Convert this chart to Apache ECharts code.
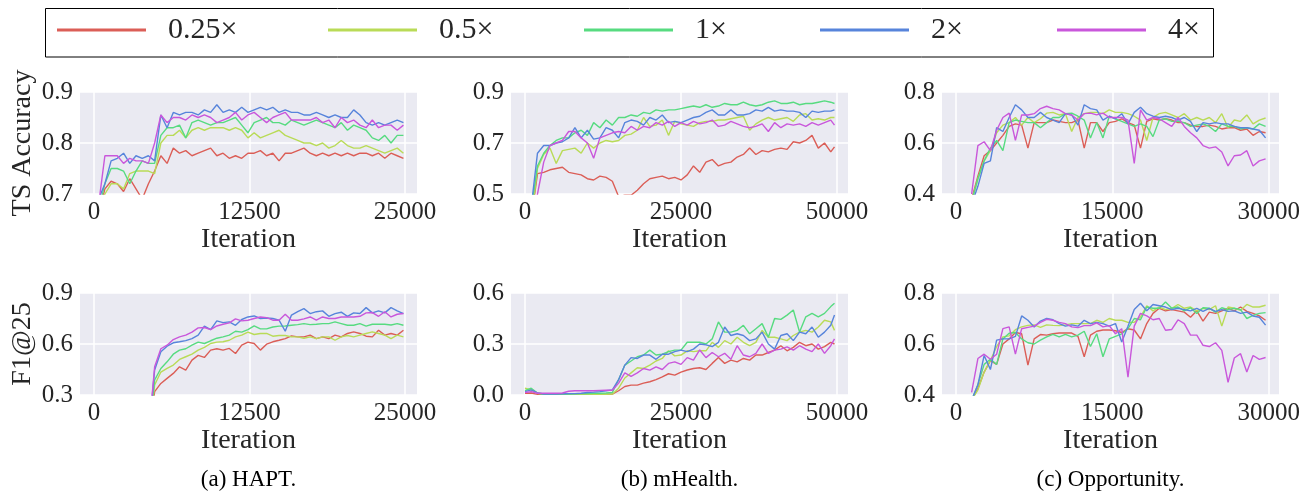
<!DOCTYPE html>
<html>
<head>
<meta charset="utf-8">
<script src="https://cdn.jsdelivr.net/npm/echarts@6.0.0/dist/echarts.min.js"></script>
<style>
  html, body { margin: 0; padding: 0; background: #fff; }
  #chart { width: 1315px; height: 499px; }
</style>
</head>
<body>
<div id="chart"></div>
<script>
// legend names / colours (seaborn hls palette)
const names = ['0.25×', '0.5×', '1×', '2×', '4×']
const colors = ['#db5e57', '#b9db57', '#57db80', '#5784db', '#c957db']

// ---- HAPT ----
const haptIter = [375, 875, 1375, 1875, 2375, 2875, 3375, 3875, 4375, 4875, 5375, 5875, 6375, 6875, 7375, 7875, 8375, 8875, 9375, 9875,
  10375, 10875, 11375, 11875, 12375, 12875, 13375, 13875, 14375, 14875, 15375, 15875, 16375, 16875, 17375, 17875, 18375, 18875, 19375, 19875,
  20375, 20875, 21375, 21875, 22375, 22875, 23375, 23875, 24375, 24875]
const haptTicks = [0, 12500, 25000]

const haptAccR = [0.66, 0.71, 0.725, 0.72, 0.705, 0.73, 0.71, 0.69, 0.72, 0.745, 0.775, 0.76, 0.79, 0.78, 0.785, 0.775, 0.78, 0.785, 0.79, 0.775,
  0.78, 0.77, 0.775, 0.77, 0.78, 0.78, 0.785, 0.775, 0.78, 0.765, 0.78, 0.78, 0.785, 0.79, 0.78, 0.775, 0.78, 0.775, 0.78, 0.775,
  0.78, 0.775, 0.78, 0.78, 0.775, 0.78, 0.77, 0.78, 0.775, 0.77]
const haptAccY = [0.66, 0.70, 0.72, 0.72, 0.71, 0.74, 0.745, 0.745, 0.745, 0.74, 0.80, 0.815, 0.815, 0.825, 0.81, 0.825, 0.83, 0.825, 0.83, 0.83,
  0.83, 0.825, 0.83, 0.825, 0.81, 0.82, 0.81, 0.815, 0.82, 0.825, 0.815, 0.81, 0.805, 0.80, 0.80, 0.795, 0.80, 0.79, 0.795, 0.805,
  0.795, 0.79, 0.79, 0.795, 0.79, 0.785, 0.78, 0.785, 0.79, 0.78]
const haptAccG = [0.67, 0.72, 0.75, 0.75, 0.745, 0.72, 0.745, 0.765, 0.76, 0.76, 0.815, 0.83, 0.83, 0.835, 0.81, 0.84, 0.845, 0.84, 0.835, 0.84,
  0.84, 0.845, 0.85, 0.835, 0.82, 0.84, 0.845, 0.85, 0.84, 0.84, 0.835, 0.845, 0.84, 0.835, 0.84, 0.845, 0.84, 0.835, 0.83, 0.84,
  0.825, 0.835, 0.83, 0.825, 0.81, 0.805, 0.815, 0.80, 0.815, 0.815]
const haptAccB = [0.69, 0.72, 0.765, 0.77, 0.78, 0.76, 0.775, 0.77, 0.775, 0.765, 0.855, 0.83, 0.86, 0.855, 0.86, 0.86, 0.855, 0.865, 0.86, 0.875,
  0.86, 0.865, 0.86, 0.87, 0.86, 0.865, 0.87, 0.865, 0.87, 0.86, 0.865, 0.86, 0.86, 0.855, 0.855, 0.86, 0.855, 0.85, 0.855, 0.85,
  0.85, 0.865, 0.855, 0.84, 0.835, 0.84, 0.835, 0.84, 0.845, 0.84]
const haptAccP = [0.68, 0.775, 0.775, 0.775, 0.76, 0.77, 0.765, 0.765, 0.76, 0.80, 0.855, 0.84, 0.85, 0.85, 0.845, 0.855, 0.85, 0.855, 0.85, 0.84,
  0.845, 0.85, 0.86, 0.845, 0.855, 0.86, 0.85, 0.84, 0.85, 0.855, 0.86, 0.845, 0.845, 0.845, 0.845, 0.85, 0.84, 0.845, 0.83, 0.85,
  0.84, 0.845, 0.835, 0.83, 0.845, 0.83, 0.835, 0.835, 0.825, 0.835]

const haptF1Iter = [4375, 4875, 5375, 5875, 6375, 6875, 7375, 7875, 8375, 8875, 9375, 9875,
  10375, 10875, 11375, 11875, 12375, 12875, 13375, 13875, 14375, 14875, 15375, 15875, 16375, 16875, 17375, 17875, 18375, 18875, 19375, 19875,
  20375, 20875, 21375, 21875, 22375, 22875, 23375, 23875, 24375, 24875]
const haptF1R = [0.05, 0.32, 0.368, 0.398, 0.427, 0.466, 0.447, 0.505, 0.533, 0.521, 0.564, 0.572, 0.564, 0.574, 0.544, 0.593, 0.611, 0.603, 0.564, 0.599, 0.613,
  0.622, 0.632, 0.648, 0.642, 0.642, 0.652, 0.632, 0.642, 0.632, 0.652, 0.642, 0.662, 0.671, 0.662, 0.646, 0.642, 0.681, 0.652, 0.662, 0.652, 0.681]
const haptF1Y = [0.05, 0.359, 0.435, 0.456, 0.476, 0.509, 0.525, 0.54, 0.564, 0.58, 0.603, 0.611, 0.613, 0.622, 0.642, 0.652, 0.67, 0.656, 0.662, 0.662, 0.646,
  0.65, 0.65, 0.642, 0.642, 0.634, 0.642, 0.632, 0.642, 0.642, 0.622, 0.642, 0.65, 0.642, 0.652, 0.662, 0.671, 0.662, 0.652, 0.632, 0.652, 0.642]
const haptF1G = [0.05, 0.388, 0.456, 0.495, 0.54, 0.564, 0.572, 0.593, 0.611, 0.603, 0.619, 0.634, 0.642, 0.652, 0.675, 0.67, 0.685, 0.706, 0.689, 0.689, 0.70,
  0.705, 0.706, 0.71, 0.714, 0.72, 0.714, 0.716, 0.72, 0.72, 0.73, 0.72, 0.71, 0.71, 0.72, 0.705, 0.716, 0.716, 0.716, 0.712, 0.72, 0.71]
const haptF1B = [0.05, 0.447, 0.554, 0.587, 0.607, 0.613, 0.62, 0.632, 0.652, 0.705, 0.685, 0.736, 0.726, 0.73, 0.71, 0.744, 0.759, 0.765, 0.75, 0.753, 0.75,
  0.74, 0.675, 0.77, 0.79, 0.808, 0.779, 0.79, 0.795, 0.763, 0.779, 0.787, 0.763, 0.783, 0.779, 0.814, 0.783, 0.795, 0.783, 0.814, 0.795, 0.779]
const haptF1P = [0.05, 0.466, 0.572, 0.593, 0.626, 0.642, 0.652, 0.67, 0.695, 0.697, 0.685, 0.706, 0.716, 0.724, 0.748, 0.736, 0.74, 0.75, 0.759, 0.755, 0.74,
  0.74, 0.775, 0.74, 0.74, 0.748, 0.759, 0.74, 0.759, 0.75, 0.75, 0.759, 0.759, 0.759, 0.763, 0.783, 0.785, 0.763, 0.79, 0.759, 0.775, 0.779]

// ---- mHealth ----
const mhAccIter = [1000, 2000, 3000, 4000, 5000, 6000, 7000, 8000, 9000, 10000, 11000, 12000, 13000, 14000, 15000, 16000, 17000, 18000, 19000, 20000,
  21000, 22000, 23000, 24000, 25000, 26000, 27000, 28000, 29000, 30000, 31000, 32000, 33000, 34000, 35000, 36000, 37000, 38000, 39000, 40000,
  41000, 42000, 43000, 44000, 45000, 46000, 47000, 48000, 49000, 49600]
const mhTicks = [0, 25000, 50000]

const mhAccR = [0.40, 0.58, 0.585, 0.595, 0.60, 0.605, 0.585, 0.58, 0.575, 0.56, 0.555, 0.57, 0.565, 0.55, 0.49, 0.495, 0.495, 0.515, 0.54, 0.56,
  0.565, 0.57, 0.56, 0.565, 0.555, 0.575, 0.61, 0.585, 0.625, 0.635, 0.61, 0.62, 0.625, 0.645, 0.655, 0.68, 0.655, 0.67, 0.665, 0.675,
  0.68, 0.675, 0.705, 0.70, 0.71, 0.73, 0.68, 0.70, 0.665, 0.685]
const mhAccY = [0.40, 0.60, 0.655, 0.68, 0.62, 0.67, 0.675, 0.68, 0.66, 0.70, 0.68, 0.70, 0.71, 0.705, 0.71, 0.73, 0.735, 0.75, 0.80, 0.765,
  0.77, 0.79, 0.73, 0.785, 0.775, 0.77, 0.765, 0.78, 0.785, 0.785, 0.79, 0.79, 0.795, 0.80, 0.805, 0.75, 0.775, 0.79, 0.80, 0.79,
  0.795, 0.80, 0.785, 0.81, 0.815, 0.79, 0.795, 0.79, 0.80, 0.80]
const mhAccG = [0.44, 0.61, 0.66, 0.69, 0.71, 0.72, 0.72, 0.74, 0.75, 0.73, 0.78, 0.76, 0.79, 0.77, 0.80, 0.80, 0.81, 0.805, 0.82, 0.815,
  0.83, 0.825, 0.83, 0.83, 0.835, 0.84, 0.845, 0.84, 0.85, 0.84, 0.845, 0.855, 0.85, 0.85, 0.86, 0.85, 0.845, 0.85, 0.86, 0.865,
  0.855, 0.855, 0.86, 0.85, 0.855, 0.855, 0.86, 0.865, 0.86, 0.855]
const mhAccB = [0.45, 0.66, 0.69, 0.69, 0.70, 0.705, 0.72, 0.76, 0.72, 0.75, 0.715, 0.72, 0.76, 0.75, 0.72, 0.78, 0.79, 0.785, 0.77, 0.80,
  0.79, 0.81, 0.78, 0.785, 0.78, 0.79, 0.80, 0.805, 0.82, 0.83, 0.81, 0.81, 0.83, 0.81, 0.81, 0.815, 0.83, 0.825, 0.84, 0.825,
  0.83, 0.825, 0.825, 0.82, 0.80, 0.825, 0.82, 0.825, 0.825, 0.83]
const mhAccP = [0.35, 0.50, 0.625, 0.69, 0.70, 0.71, 0.745, 0.745, 0.72, 0.70, 0.64, 0.72, 0.73, 0.74, 0.745, 0.74, 0.765, 0.75, 0.765, 0.76,
  0.78, 0.77, 0.785, 0.765, 0.78, 0.77, 0.785, 0.775, 0.78, 0.79, 0.765, 0.77, 0.785, 0.775, 0.765, 0.76, 0.765, 0.775, 0.745, 0.78,
  0.76, 0.775, 0.77, 0.775, 0.765, 0.78, 0.77, 0.78, 0.79, 0.77]

const mhF1Iter = [0, 1000, 2000, 3000, 4000, 5000, 6000, 7000, 8000, 9000, 10000, 11000, 12000, 13000, 14000, 15000, 16000, 17000, 18000, 19000, 20000,
  21000, 22000, 23000, 24000, 25000, 26000, 27000, 28000, 29000, 30000, 31000, 32000, 33000, 34000, 35000, 36000, 37000, 38000, 39000, 40000,
  41000, 42000, 43000, 44000, 45000, 46000, 47000, 48000, 49000, 49600]
const mhF1R = [0.01, 0.012, 0.004, 0.004, 0.004, 0.004, 0.004, 0.004, 0.004, 0.004, 0.004, 0.004, 0.004, 0.004, 0.005, 0.025, 0.05, 0.058, 0.058, 0.07,
  0.078, 0.09, 0.107, 0.125, 0.117, 0.135, 0.147, 0.156, 0.16, 0.15, 0.186, 0.22, 0.186, 0.205, 0.195, 0.215, 0.205, 0.235, 0.235, 0.25,
  0.264, 0.29, 0.26, 0.28, 0.31, 0.29, 0.30, 0.27, 0.285, 0.31, 0.30]
const mhF1Y = [0.04, 0.03, 0.01, 0.004, 0.004, 0.004, 0.004, 0.004, 0.004, 0.004, 0.004, 0.004, 0.004, 0.004, 0.005, 0.04, 0.10, 0.13, 0.16, 0.156,
  0.176, 0.20, 0.215, 0.26, 0.23, 0.235, 0.26, 0.255, 0.26, 0.26, 0.31, 0.28, 0.32, 0.30, 0.34, 0.31, 0.29, 0.31, 0.38, 0.34,
  0.34, 0.33, 0.32, 0.35, 0.37, 0.38, 0.37, 0.40, 0.44, 0.43, 0.38]
const mhF1G = [0.025, 0.04, 0.012, 0.006, 0.006, 0.006, 0.006, 0.006, 0.007, 0.008, 0.008, 0.01, 0.01, 0.012, 0.015, 0.09, 0.176, 0.20, 0.225, 0.235,
  0.264, 0.235, 0.24, 0.255, 0.264, 0.264, 0.31, 0.31, 0.31, 0.30, 0.33, 0.43, 0.37, 0.37, 0.38, 0.41, 0.36, 0.39, 0.42, 0.34,
  0.45, 0.445, 0.47, 0.50, 0.37, 0.46, 0.48, 0.46, 0.48, 0.52, 0.54]
const mhF1B = [0.02, 0.03, 0.012, 0.006, 0.006, 0.006, 0.007, 0.008, 0.008, 0.01, 0.015, 0.017, 0.02, 0.025, 0.03, 0.09, 0.176, 0.22, 0.215, 0.235,
  0.235, 0.21, 0.24, 0.24, 0.255, 0.264, 0.255, 0.27, 0.30, 0.295, 0.285, 0.31, 0.40, 0.35, 0.36, 0.35, 0.32, 0.33, 0.37, 0.30,
  0.27, 0.35, 0.36, 0.32, 0.37, 0.36, 0.40, 0.34, 0.37, 0.41, 0.47]
const mhF1P = [0.015, 0.02, 0.01, 0.01, 0.01, 0.01, 0.012, 0.022, 0.025, 0.025, 0.025, 0.025, 0.027, 0.028, 0.028, 0.07, 0.13, 0.11, 0.13, 0.156,
  0.146, 0.166, 0.15, 0.186, 0.195, 0.18, 0.22, 0.205, 0.265, 0.22, 0.25, 0.225, 0.245, 0.21, 0.29, 0.235, 0.225, 0.245, 0.30, 0.245,
  0.264, 0.27, 0.283, 0.264, 0.29, 0.27, 0.255, 0.30, 0.245, 0.29, 0.33]

// ---- Opportunity ----
const oppIter = [1500, 2100, 2700, 3300, 3900, 4500, 5100, 5700, 6300, 6900, 7500, 8100, 8700, 9300, 9900, 10500, 11100, 11700, 12300, 12900,
  13500, 14100, 14700, 15300, 15900, 16500, 17100, 17700, 18300, 18900, 19500, 20100, 20700, 21300, 21900, 22500, 23100, 23700, 24300, 24900,
  25500, 26100, 26700, 27300, 27900, 28500, 29100, 29700]
const oppTicks = [0, 15000, 30000]

const oppAccR = [0.38, 0.47, 0.55, 0.57, 0.60, 0.63, 0.665, 0.675, 0.67, 0.58, 0.68, 0.68, 0.68, 0.69, 0.685, 0.68, 0.68, 0.69, 0.58, 0.68,
  0.68, 0.645, 0.68, 0.685, 0.695, 0.68, 0.67, 0.58, 0.685, 0.695, 0.69, 0.695, 0.69, 0.68, 0.68, 0.67, 0.665, 0.665, 0.67, 0.665,
  0.655, 0.66, 0.66, 0.65, 0.655, 0.63, 0.645, 0.64]
const oppAccY = [0.37, 0.46, 0.53, 0.57, 0.64, 0.67, 0.68, 0.70, 0.67, 0.70, 0.68, 0.695, 0.717, 0.72, 0.71, 0.715, 0.645, 0.70, 0.715, 0.72,
  0.72, 0.715, 0.73, 0.72, 0.72, 0.715, 0.705, 0.69, 0.61, 0.70, 0.715, 0.72, 0.71, 0.70, 0.715, 0.69, 0.70, 0.69, 0.70, 0.68,
  0.715, 0.66, 0.69, 0.685, 0.71, 0.675, 0.69, 0.698]
const oppAccG = [0.37, 0.46, 0.53, 0.58, 0.61, 0.57, 0.68, 0.69, 0.685, 0.68, 0.68, 0.66, 0.68, 0.70, 0.70, 0.715, 0.717, 0.705, 0.69, 0.62,
  0.68, 0.62, 0.705, 0.695, 0.685, 0.675, 0.665, 0.675, 0.665, 0.625, 0.69, 0.695, 0.685, 0.685, 0.68, 0.665, 0.67, 0.675, 0.665, 0.645,
  0.675, 0.665, 0.665, 0.655, 0.66, 0.655, 0.675, 0.665]
const oppAccB = [0.36, 0.43, 0.52, 0.53, 0.66, 0.645, 0.70, 0.75, 0.73, 0.70, 0.70, 0.72, 0.70, 0.69, 0.68, 0.715, 0.71, 0.67, 0.75, 0.735,
  0.73, 0.69, 0.705, 0.695, 0.715, 0.675, 0.72, 0.74, 0.715, 0.705, 0.70, 0.705, 0.70, 0.69, 0.70, 0.685, 0.645, 0.68, 0.675, 0.68,
  0.675, 0.675, 0.665, 0.66, 0.66, 0.655, 0.65, 0.62]
const oppAccP = [0.40, 0.59, 0.605, 0.57, 0.65, 0.70, 0.717, 0.61, 0.71, 0.71, 0.715, 0.735, 0.744, 0.735, 0.73, 0.715, 0.71, 0.69, 0.715, 0.717,
  0.71, 0.717, 0.70, 0.70, 0.70, 0.69, 0.52, 0.73, 0.69, 0.70, 0.695, 0.68, 0.665, 0.70, 0.665, 0.64, 0.62, 0.59, 0.58, 0.585,
  0.565, 0.51, 0.55, 0.553, 0.57, 0.51, 0.53, 0.538]

const oppF1R = [0.38, 0.425, 0.49, 0.535, 0.52, 0.60, 0.62, 0.645, 0.64, 0.517, 0.62, 0.637, 0.635, 0.64, 0.643, 0.643, 0.643, 0.63, 0.55, 0.635,
  0.65, 0.655, 0.655, 0.652, 0.645, 0.66, 0.655, 0.62, 0.68, 0.72, 0.74, 0.73, 0.735, 0.73, 0.725, 0.705, 0.73, 0.69, 0.725, 0.72,
  0.73, 0.74, 0.73, 0.745, 0.728, 0.72, 0.71, 0.693]
const oppF1Y = [0.38, 0.42, 0.49, 0.535, 0.59, 0.628, 0.632, 0.656, 0.667, 0.673, 0.675, 0.665, 0.675, 0.673, 0.672, 0.675, 0.68, 0.68, 0.68, 0.68,
  0.693, 0.685, 0.70, 0.693, 0.693, 0.685, 0.685, 0.706, 0.75, 0.73, 0.745, 0.735, 0.74, 0.755, 0.74, 0.745, 0.73, 0.74, 0.735, 0.75,
  0.67, 0.745, 0.74, 0.732, 0.755, 0.745, 0.745, 0.752]
const oppF1G = [0.38, 0.44, 0.52, 0.54, 0.52, 0.62, 0.642, 0.645, 0.62, 0.605, 0.60, 0.615, 0.628, 0.638, 0.628, 0.638, 0.628, 0.635, 0.65, 0.59,
  0.64, 0.55, 0.62, 0.63, 0.64, 0.66, 0.70, 0.695, 0.745, 0.74, 0.74, 0.765, 0.74, 0.745, 0.73, 0.742, 0.72, 0.742, 0.74, 0.725,
  0.742, 0.735, 0.74, 0.735, 0.70, 0.712, 0.72, 0.723]
const oppF1B = [0.38, 0.44, 0.555, 0.50, 0.615, 0.62, 0.62, 0.63, 0.71, 0.693, 0.667, 0.69, 0.70, 0.695, 0.68, 0.67, 0.675, 0.67, 0.693, 0.68,
  0.685, 0.68, 0.67, 0.68, 0.608, 0.67, 0.735, 0.76, 0.73, 0.755, 0.75, 0.745, 0.735, 0.74, 0.735, 0.73, 0.74, 0.728, 0.74, 0.728,
  0.735, 0.728, 0.73, 0.72, 0.725, 0.71, 0.705, 0.674]
const oppF1P = [0.41, 0.543, 0.56, 0.54, 0.56, 0.66, 0.667, 0.56, 0.66, 0.665, 0.67, 0.685, 0.697, 0.693, 0.685, 0.68, 0.667, 0.664, 0.672, 0.672,
  0.683, 0.667, 0.672, 0.64, 0.66, 0.47, 0.67, 0.72, 0.71, 0.695, 0.70, 0.654, 0.657, 0.695, 0.68, 0.635, 0.635, 0.595, 0.59, 0.605,
  0.575, 0.45, 0.545, 0.562, 0.49, 0.555, 0.54, 0.547]

// y ticks per panel
const accTicksHapt = [0.7, 0.8, 0.9]
const accTicksMh = [0.5, 0.7, 0.9]
const accTicksOpp = [0.4, 0.6, 0.8]
const f1TicksHapt = [0.3, 0.6, 0.9]
const f1TicksMh = [0.0, 0.3, 0.6]
const f1TicksOpp = [0.4, 0.6, 0.8]

const captions = ['(a) HAPT.', '(b) mHealth.', '(c) Opportunity.']

// ---- layout ----
const FONT = 'Liberation Serif'
const TXT = '#262626'
const colLeft = [80, 511, 942]
const rowTop = [92, 293]
const plotW = 337
const plotH = 102
const xRange = [[-1125, 25965], [-2244, 51763], [-1343, 30988]]

const panels = [
  { row: 0, col: 0, iter: haptIter, lines: [haptAccR, haptAccY, haptAccG, haptAccB, haptAccP], xt: haptTicks, yt: accTicksHapt, yName: 'TS Accuracy' },
  { row: 0, col: 1, iter: mhAccIter, lines: [mhAccR, mhAccY, mhAccG, mhAccB, mhAccP], xt: mhTicks, yt: accTicksMh },
  { row: 0, col: 2, iter: oppIter, lines: [oppAccR, oppAccY, oppAccG, oppAccB, oppAccP], xt: oppTicks, yt: accTicksOpp },
  { row: 1, col: 0, iter: haptF1Iter, lines: [haptF1R, haptF1Y, haptF1G, haptF1B, haptF1P], xt: haptTicks, yt: f1TicksHapt, yName: 'F1@25' },
  { row: 1, col: 1, iter: mhF1Iter, lines: [mhF1R, mhF1Y, mhF1G, mhF1B, mhF1P], xt: mhTicks, yt: f1TicksMh },
  { row: 1, col: 2, iter: oppIter, lines: [oppF1R, oppF1Y, oppF1G, oppF1B, oppF1P], xt: oppTicks, yt: f1TicksOpp }
]

const grid = [], xAxis = [], yAxis = [], series = []
panels.forEach((p, i) => {
  grid.push({ left: colLeft[p.col], top: rowTop[p.row], width: plotW, height: plotH,
    show: true, backgroundColor: '#eaeaf2', borderWidth: 0 })
  xAxis.push({
    type: 'value', gridIndex: i, min: xRange[p.col][0], max: xRange[p.col][1],
    axisLine: { show: false },
    axisTick: { show: false, customValues: p.xt },
    axisLabel: { customValues: p.xt, formatter: v => String(v), fontFamily: FONT, fontSize: 25, color: TXT, margin: 6 },
    splitLine: { show: true, lineStyle: { color: '#fff', width: 1.5 } },
    name: 'Iteration', nameLocation: 'middle', nameGap: 27,
    nameTextStyle: { fontFamily: FONT, fontSize: 28, color: TXT }
  })
  yAxis.push({
    type: 'value', gridIndex: i, min: p.yt[0], max: p.yt[2],
    axisLine: { show: false },
    axisTick: { show: false, customValues: p.yt },
    axisLabel: { customValues: p.yt, formatter: v => v.toFixed(1), fontFamily: FONT, fontSize: 25, color: TXT, margin: 7 },
    splitLine: { show: true, lineStyle: { color: '#fff', width: 1.5 } },
    name: p.yName || '', nameLocation: 'middle', nameGap: 43,
    nameTextStyle: { fontFamily: FONT, fontSize: 28, color: TXT }
  })
  p.lines.forEach((vals, k) => {
    series.push({
      name: names[k], type: 'line', xAxisIndex: i, yAxisIndex: i,
      data: p.iter.map((x, j) => [x, vals[j]]),
      showSymbol: false, symbol: 'none', clip: true,
      color: colors[k], lineStyle: { width: 1.4, color: colors[k] },
      emphasis: { disabled: true }
    })
  })
})

// one legend per entry so every item sits where it does in the figure
const legendX = [57, 328, 584, 820, 1057]
const legend = names.map((n, k) => ({
  data: [{ name: n, icon: 'rect' }],
  left: legendX[k], top: 15, padding: 0, itemGap: 0,
  itemWidth: 89, itemHeight: 3,
  textStyle: { fontFamily: FONT, fontSize: 30, color: TXT, padding: [0, 0, 0, 17] }
}))

const graphic = [
  { type: 'rect', shape: { x: 45.5, y: 8.5, width: 1168, height: 48.5 },
    style: { fill: null, stroke: '#000', lineWidth: 1 }, silent: true }
].concat(captions.map((c, k) => ({
  type: 'text', x: colLeft[k] + plotW / 2, y: 480, silent: true,
  style: { text: c, fontFamily: FONT, fontSize: 23, fill: '#000', align: 'center', verticalAlign: 'middle' }
})))

const chart = echarts.init(document.getElementById('chart'), null, { renderer: 'canvas' })
chart.setOption({
  animation: false,
  backgroundColor: '#fff',
  grid, xAxis, yAxis, series, legend, graphic
})
</script>
</body>
</html>
